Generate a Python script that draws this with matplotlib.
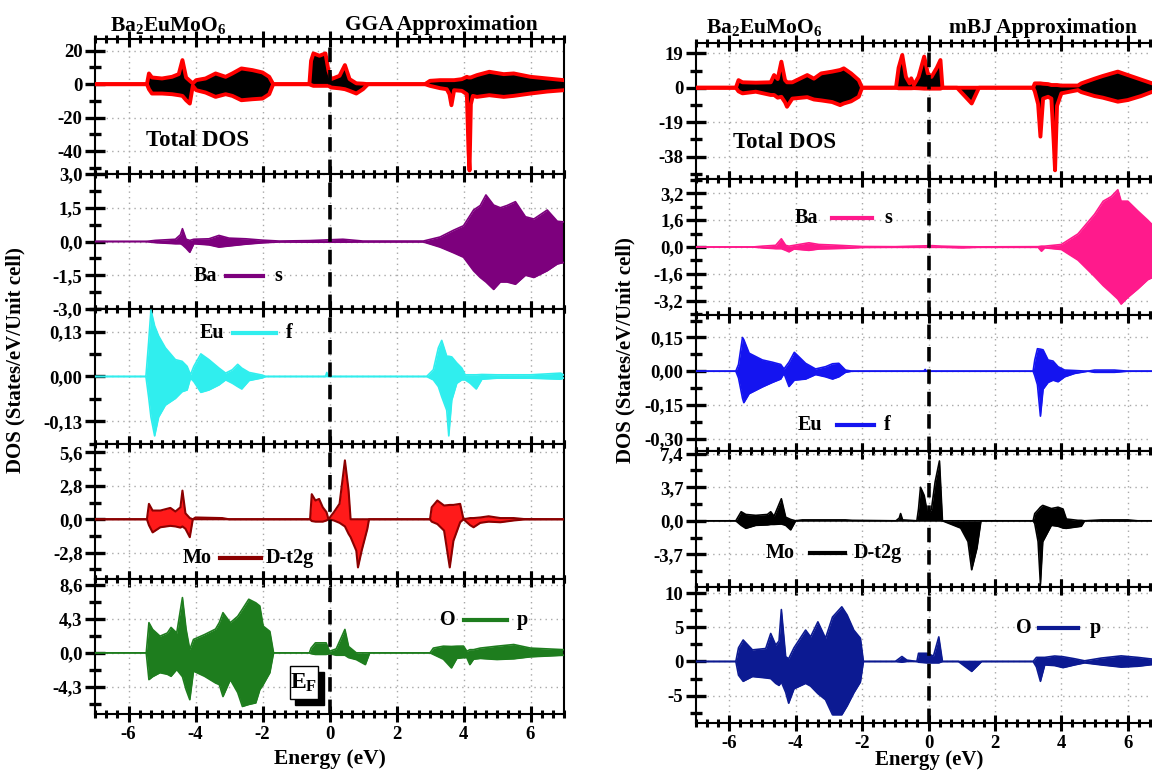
import matplotlib
matplotlib.use('Agg')
import matplotlib.pyplot as plt
from matplotlib.ticker import MultipleLocator, FixedLocator, FuncFormatter
from matplotlib.lines import Line2D
from matplotlib.patches import Rectangle

plt.rcParams['font.family'] = ['Liberation Serif', 'DejaVu Serif']
plt.rcParams['font.weight'] = 'bold'
plt.rcParams['axes.unicode_minus'] = False
plt.rcParams['mathtext.fontset'] = 'custom'
plt.rcParams['mathtext.rm'] = 'Liberation Serif:bold'
plt.rcParams['mathtext.it'] = 'Liberation Serif:bold'
plt.rcParams['mathtext.bf'] = 'Liberation Serif:bold'
plt.rcParams['mathtext.default'] = 'bf'

# ---------------- GGA data (energy eV, spin-up envelope, spin-down envelope) ----------------
gga_tot_e = [-7.0, -5.45, -5.39, -5.30, -5.0, -4.7, -4.5, -4.39, -4.28, -4.17, -4.08, -3.98, -3.7, -3.4,
             -3.1, -2.9, -2.63, -2.3, -2.0, -1.8, -1.68, -0.6, -0.55, -0.48, -0.3, -0.12, -0.03, 0.05,
             0.3, 0.46, 0.6, 0.8, 1.0, 1.15, 2.85, 3.0, 3.3, 3.5, 3.58, 3.64, 3.72, 3.95, 4.1, 4.15,
             4.18, 4.22, 4.28, 4.4, 4.77, 5.2, 5.5, 6.0, 6.5, 7.0]
gga_tot_up = [0, 0, 6.4, 4, 3.4, 4.4, 6, 14.4, 4, 2, 0.5, 2.4, 3.4, 6.4,
              4.4, 6.4, 9.4, 8.4, 7, 4.4, 0, 0, 14, 18.4, 17, 18.4, 8, 3,
              5, 11.4, 3, 0.5, 0.3, 0, 0, 2, 2.4, 2.4, 2.4, 2.4, 2.4, 3, 4.4, 4,
              4, 4, 4.5, 5.4, 7.4, 6, 6.4, 4.4, 3.4, 2.4]
gga_tot_dn = [0, 0, -3, -5.6, -5.6, -6, -6.6, -7, -9.6, -11.6, -1, -3.6, -5, -7.6,
              -6, -7, -9.6, -9, -8.6, -6, 0, 0, -0.5, -1, -1, -1, -1, -2,
              -2.5, -3, -4, -5.6, -3, 0, 0, -1, -2.4, -3, -6, -12.6, -3.6, -4, -6, -40,
              -51.6, -12, -7, -7.6, -6.6, -7.6, -7, -5.6, -4.4, -3.6]

gga_ba_e = [-7.0, -5.5, -5.2, -4.6, -4.45, -4.39, -4.28, -4.17, -4.05, -3.6, -3.3, -3.0, -2.5, -2.0,
            -1.5, -0.6, 0.4, 1.0, 2.8, 3.3, 3.7, 4.0, 4.3, 4.5, 4.67, 4.9, 5.1, 5.3, 5.55, 5.85,
            6.1, 6.5, 6.8, 7.0]
gga_ba_up = [0, 0, 0.05, 0.1, 0.3, 0.57, 0.1, 0.05, 0.1, 0.12, 0.27, 0.15, 0.12, 0.06,
             0.02, 0.04, 0.1, 0.02, 0.02, 0.2, 0.5, 0.7, 1.4, 1.6, 2.07, 1.62, 1.5, 1.6, 1.77, 1.1,
             1.0, 1.4, 0.9, 0.87]
gga_ba_dn = [0, 0, -0.05, -0.1, -0.1, -0.15, -0.3, -0.48, -0.1, -0.15, -0.25, -0.2, -0.12, -0.06,
             -0.02, -0.03, -0.03, -0.02, -0.02, -0.25, -0.5, -0.7, -1.3, -1.6, -1.8, -2.13, -1.8, -1.8, -1.9, -1.5,
             -1.6, -1.3, -1.0, -0.93]

gga_eu_e = [-7.0, -5.48, -5.40, -5.33, -5.22, -5.1, -4.9, -4.6, -4.4, -4.25, -4.15, -4.05, -3.84, -3.6,
            -3.3, -3.1, -2.9, -2.74, -2.62, -2.4, -2.0, -1.9, -0.12, -0.08, -0.04, 2.9, 3.1, 3.25,
            3.35, 3.5, 3.56, 3.65, 3.8, 3.95, 4.05, 4.2, 4.38, 4.55, 5.0, 6.0, 6.9, 7.0]
gga_eu_up = [0, 0, 0.10, 0.197, 0.15, 0.12, 0.085, 0.05, 0.045, 0.03, 0.005, 0.03, 0.067, 0.05,
             0.025, 0.01, 0.02, 0.036, 0.025, 0.012, 0.004, 0, 0, 0.012, 0, 0, 0.02, 0.085,
             0.107, 0.06, 0.06, 0.058, 0.04, 0.025, 0.005, 0.005, 0.005, 0.006, 0.005, 0.005, 0.01, 0.004]
gga_eu_dn = [0, 0, -0.06, -0.12, -0.176, -0.12, -0.085, -0.065, -0.045, -0.04, -0.005, -0.015, -0.047, -0.04,
             -0.025, -0.01, -0.02, -0.03, -0.037, -0.012, -0.004, 0, 0, 0, 0, 0, -0.01, -0.03,
             -0.06, -0.1, -0.176, -0.07, -0.02, -0.01, -0.01, -0.02, -0.037, -0.008, -0.005, -0.005, -0.008, -0.004]

gga_mo_e = [-7.0, -5.45, -5.39, -5.28, -5.05, -4.75, -4.6, -4.45, -4.39, -4.3, -4.17, -4.08, -4.0, -3.2,
            -3.0, -0.58, -0.53, -0.42, -0.31, -0.2, -0.09, -0.03, 0.13, 0.3, 0.46, 0.57, 0.63, 0.8,
            0.85, 0.96, 1.13, 1.18, 3.0, 3.05, 3.22, 3.42, 3.59, 3.7, 3.9, 4.0, 4.2, 4.3, 4.5,
            4.75, 5.1, 5.5, 5.8, 7.0]
gga_mo_up = [0, 0, 1.29, 0.73, 0.73, 0.95, 0.65, 1.0, 2.4, 0.5, 0.1, 0, 0.15, 0.1,
             0, 0, 2.1, 1.57, 1.7, 1.0, 0.6, 0, 0.59, 1.3, 4.93, 2.4, 0, 0,
             0, 0, 0, 0, 0, 1.0, 1.57, 1.15, 1.2, 1.2, 1.29, 0, 0.1, 0.1, 0.15,
             0.25, 0.1, 0.1, 0.02, 0]
gga_mo_dn = [0, 0, -0.5, -1.1, -0.67, -0.55, -0.6, -0.7, -0.6, -0.8, -1.5, 0, 0, 0,
             0, 0, -0.15, -0.2, -0.2, -0.2, -0.1, 0, -0.1, -0.3, -0.6, -1.23, -1.5, -2.63,
             -4.03, -2.63, -0.8, 0, 0, -0.2, -0.4, -0.95, -4.03, -1.8, -0.25, 0, -0.5, -0.67, -0.3,
             -0.2, -0.25, -0.1, -0.02, 0]

gga_o_e = [-7.0, -5.47, -5.39, -5.28, -5.06, -4.84, -4.73, -4.56, -4.39, -4.28, -4.17, -4.06, -3.73, -3.4,
           -3.29, -3.18, -2.96, -2.74, -2.6, -2.41, -2.2, -2.08, -1.98, -1.78, -1.67, -0.6, -0.55, -0.42,
           -0.1, 0.0, 0.2, 0.46, 0.57, 0.8, 1.07, 1.2, 3.0, 3.1, 3.4, 3.64, 3.8, 4.0, 4.1,
           4.19, 4.3, 4.5, 5.0, 5.5, 6.0, 6.5, 7.0]
gga_o_up = [0, 0, 3.8, 2.95, 2.1, 2.5, 3.2, 2.5, 6.96, 2.95, 0.4, 1.69, 2.3, 3.0,
            3.8, 5.06, 3.8, 4.6, 5.5, 6.75, 6.3, 5.9, 3.37, 2.7, 0, 0, 0.6, 1.26,
            1.26, 0.2, 0.5, 2.95, 0.8, 0, 0, 0, 0, 0.6, 0.84, 0.8, 0.84, 0.85, 0.2,
            0.4, 0.4, 0.6, 0.84, 1.05, 0.6, 0.5, 0.4]
gga_o_dn = [0, 0, -3.37, -3.0, -2.5, -2.7, -2.95, -2.1, -3.0, -4.64, -5.9, -2.3, -2.95, -3.8,
            -4.0, -5.5, -3.37, -5.0, -6.75, -6.5, -6.3, -4.64, -4.0, -2.5, 0, 0, -0.1, -0.2,
            -0.2, -0.1, -0.3, -0.3, -0.6, -0.85, -1.48, 0, 0, -0.2, -0.8, -1.9, -0.7, -0.6, -0.6,
            -1.48, -0.8, -0.7, -0.84, -0.75, -0.5, -0.4, -0.3]

# ---------------- mBJ data ----------------
mbj_tot_e = [-7.0, -5.8, -5.72, -5.6, -5.2, -4.75, -4.65, -4.54, -4.43, -4.32, -4.26, -4.1, -3.65, -3.45,
             -3.23, -2.9, -2.66, -2.55, -2.33, -2.1, -2.0, -0.98, -0.9, -0.79, -0.68, -0.57, -0.52, -0.44,
             -0.3, -0.13, -0.02, 0.09, 0.25, 0.36, 0.42, 0.86, 0.97, 1.3, 1.52, 3.15, 3.2, 3.3,
             3.37, 3.45, 3.6, 3.7, 3.77, 3.81, 3.87, 4.0, 4.5, 4.6, 5.0, 5.25, 5.7, 6.0, 6.4,
             6.8, 7.0]
mbj_tot_up = [0, 0, 4.2, 3, 2.8, 3, 7, 4.8, 14.4, 4.2, 3, 3, 7, 5,
              7.9, 8.9, 9.8, 10.7, 7.9, 4.2, 0, 0, 11, 18.1, 6, 2.4, 5.2, 1.5,
              6, 17.2, 7.9, 6, 11, 15.3, 0, 0, 0, 0, 0, 0, 2.4, 2.4,
              2.4, 2.2, 2.0, 1.5, 1.5, 1.5, 1.5, 1.2, 1.2, 2.4, 5, 6.5, 8.9, 7, 4.5,
              2, 1.5]
mbj_tot_dn = [0, 0, -2, -3.1, -2.2, -4, -4, -5.5, -5, -8, -10.5, -6, -5.2, -6.5,
              -7, -7.9, -9.6, -8.7, -7.5, -5, 0, 0, -0.3, -0.3, -0.3, -0.3, -0.3, -0.2,
              -0.3, -0.5, -0.5, -0.5, -0.5, -0.5, 0, 0, -2.2, -8.7, 0, 0, -2, -9,
              -27, -6, -5, -6, -30, -45.6, -10, -3.1, -1.3, -2.4, -4.6, -5.5, -7.7, -6.8, -4.6,
              -1.8, -1.5]

mbj_ba_e = [-7.0, -5.3, -5.0, -4.6, -4.43, -4.3, -4.2, -4.05, -3.6, -3.3, -2.9, -2.5, -2.0, -1.0,
            0.1, 0.4, 1.0, 1.5, 3.3, 3.4, 3.5, 4.0, 4.5, 5.0, 5.26, 5.5, 5.7, 5.8, 6.0, 6.3,
            6.6, 6.8, 7.0]
mbj_ba_up = [0, 0, 0.05, 0.1, 0.49, 0.1, 0.05, 0.1, 0.25, 0.15, 0.12, 0.08, 0.03, 0.02,
             0.08, 0.05, 0.02, 0.01, 0.02, 0.05, 0.05, 0.15, 0.78, 1.95, 2.73, 3.0, 3.41, 2.73, 2.73, 2.15,
             1.6, 1.2, 1.0]
mbj_ba_dn = [0, 0, -0.05, -0.1, -0.1, -0.2, -0.29, -0.12, -0.2, -0.12, -0.1, -0.08, -0.03, -0.02,
             -0.02, -0.02, -0.05, -0.02, -0.02, -0.25, -0.05, -0.15, -0.78, -1.76, -2.3, -2.73, -3.1, -3.4, -3.0, -2.5,
             -1.95, -1.76, -1.5]

mbj_eu_e = [-7.0, -5.8, -5.72, -5.6, -5.56, -5.4, -5.0, -4.7, -4.45, -4.35, -4.2, -4.04, -3.7, -3.4,
            -3.1, -2.89, -2.7, -2.5, -2.3, -0.14, -0.1, -0.06, 3.15, 3.2, 3.28, 3.37, 3.45, 3.6,
            3.75, 3.9, 4.1, 4.4, 4.8, 5.0, 5.6, 6.0, 7.0]
mbj_eu_up = [0, 0, 0.03, 0.15, 0.14, 0.08, 0.05, 0.04, 0.03, 0.01, 0.04, 0.084, 0.035, 0.01,
             0.02, 0.033, 0.035, 0.005, 0, 0, 0.008, 0, 0, 0.05, 0.1, 0.098, 0.095, 0.05,
             0.045, 0.02, 0.005, 0.003, 0, 0.005, 0.005, 0, 0]
mbj_eu_dn = [0, 0, -0.03, -0.12, -0.14, -0.1, -0.07, -0.05, -0.035, -0.01, -0.068, -0.04, -0.035, -0.015,
             -0.025, -0.035, -0.025, -0.005, 0, 0, 0, 0, 0, -0.02, -0.06, -0.2, -0.08, -0.05,
             -0.04, -0.047, -0.025, -0.01, 0, -0.005, -0.005, 0, 0]

mbj_mo_e = [-7.0, -5.8, -5.64, -5.5, -5.2, -4.85, -4.75, -4.65, -4.43, -4.3, -4.15, -4.0, -3.8, -2.5,
            -2.3, -0.98, -0.88, -0.84, -0.78, -0.35, -0.3, -0.24, -0.13, -0.02, 0.09, 0.2, 0.33, 0.42,
            0.97, 1.19, 1.3, 1.46, 1.58, 3.15, 3.2, 3.3, 3.37, 3.44, 3.7, 3.9, 4.05, 4.15, 4.5,
            4.6, 4.7, 5.2, 6.0, 6.3, 7.0]
mbj_mo_up = [0, 0, 1.0, 0.7, 0.6, 0.7, 1.0, 0.5, 2.43, 0.4, 0.15, 0, 0.1, 0.1,
             0.05, 0, 0.3, 0.8, 0.1, 0, 1.3, 3.7, 2.8, 0.6, 1.3, 4.3, 6.6, 0,
             0, 0, 0, 0, 0, 0, 0.8, 1.2, 1.5, 1.7, 1.35, 1.5, 1.3, 0.2, 0.05,
             0.05, 0, 0.1, 0.1, 0, 0]
mbj_mo_dn = [0, 0, -0.5, -0.83, -0.5, -0.45, -0.4, -0.4, -0.35, -0.5, -1.0, 0, 0, 0,
             0, 0, 0, 0, 0, 0, 0, 0, 0, 0, 0, 0, 0, 0,
             -0.8, -2.3, -5.4, -3, 0, 0, -0.3, -2.3, -7.0, -2.3, -0.5, -0.6, -0.8, -0.83, -0.65,
             -0.6, 0, -0.02, -0.02, 0, 0]

mbj_o_e = [-7.0, -5.8, -5.72, -5.58, -5.3, -4.9, -4.75, -4.6, -4.5, -4.43, -4.3, -4.21, -4.05, -3.7,
           -3.55, -3.33, -3.1, -2.89, -2.61, -2.45, -2.25, -2.05, -1.96, -1.0, -0.8, -0.65, -0.35, -0.3,
           -0.05, 0.15, 0.31, 0.42, 0.9, 1.3, 1.6, 3.15, 3.25, 3.37, 3.5, 3.8, 4.05, 4.4, 4.7,
           5.2, 5.8, 6.3, 7.0]
mbj_o_up = [0, 0, 2.0, 3.15, 1.7, 1.9, 4.1, 2.4, 3.0, 7.6, 0.7, 0.4, 2.0, 4.6,
            3.6, 5.8, 3.4, 6.5, 8.0, 6.8, 4.6, 3.4, 0, 0, 0.73, 0.2, 0, 1.2,
            1.2, 0.8, 3.6, 0, 0, 0, 0, 0, 0.6, 0.6, 0.6, 0.8, 0.7, 0.4, 0.1,
            0.5, 0.82, 0.6, 0.2]
mbj_o_dn = [0, 0, -2.0, -2.9, -2.2, -2.4, -2.5, -3.2, -3.5, -3.0, -4.5, -6.1, -4.0, -3.2,
            -3.6, -4.7, -5.6, -7.8, -7.8, -6.5, -4.6, -3.0, 0, 0, -0.1, 0, 0, -0.1,
            -0.2, -0.2, -0.2, 0, 0, -1.45, 0, 0, -0.8, -2.9, -0.5, -0.6, -0.9, -0.5, -0.2,
            -0.5, -0.82, -0.7, -0.3]

x_ticks = [-6, -4, -2, 0, 2, 4, 6]

gga_yticks = [[-40, -20, 0, 20], [-3.0, -1.5, 0.0, 1.5, 3.0], [-0.1333, 0.0, 0.1333],
              [-2.8, 0.0, 2.8, 5.6], [-4.3, 0.0, 4.3, 8.6]]
gga_ydec = [0, 1, 2, 1, 1]
mbj_yticks = [[-38, -19, 0, 19], [-3.2, -1.6, 0.0, 1.6, 3.2], [-0.30, -0.15, 0.0, 0.15],
              [-3.7, 0.0, 3.7, 7.4], [-5, 0, 5, 10]]
mbj_ydec = [0, 1, 2, 1, 0]

gga_legend = [None, ('Ba', 's'), ('Eu', 'f'), ('Mo', 'D-t2g'), ('O', 'p')]
mbj_legend = [None, ('Ba', 's'), ('Eu', 'f'), ('Mo', 'D-t2g'), ('O', 'p')]

# ---------------- figure ----------------
W, H = 1152, 771
fig = plt.figure(figsize=(W / 100, H / 100), dpi=100)


def fx(px):
    return px / W


def fy(py):
    return 1 - py / H


def fmt(dec):
    return FuncFormatter(lambda v, p: f"{v:.{dec}f}".replace('.', ','))


TICK_FS = 13.5


def build_column(x0, x1, top, bottom, panels, yticks, ydecs):
    n = len(panels)
    h = (bottom - top) / n
    axes = []
    for i, (e, up, dn, fill, edge, elw, ylim) in enumerate(panels):
        ax = fig.add_axes([fx(x0), fy(top + (i + 1) * h), (x1 - x0) / W, h / H])
        ax.fill_between(e, dn, up, color=fill, lw=0, zorder=2)
        ax.plot(e, up, color=edge, lw=elw, zorder=3, solid_joinstyle='round')
        ax.plot(e, dn, color=edge, lw=elw, zorder=3, solid_joinstyle='round')
        ax.axvline(0, color='black', lw=2.6, ls=(0, (4, 2.2)), zorder=5)
        ax.set_xlim(-7, 7)
        ax.set_ylim(*ylim)
        ax.xaxis.set_major_locator(FixedLocator(x_ticks))
        ax.xaxis.set_minor_locator(MultipleLocator(1 / 3))
        ax.yaxis.set_major_locator(FixedLocator(yticks[i]))
        step = yticks[i][1] - yticks[i][0]
        ax.yaxis.set_minor_locator(MultipleLocator(step / 2))
        ax.yaxis.set_major_formatter(fmt(ydecs[i]))
        ax.grid(True, which='major', color='#a8a8a8', ls=(0, (1, 3)), lw=1.0, zorder=1)
        ax.tick_params(axis='x', which='major', direction='inout', length=11, width=2.2,
                       top=True, bottom=True, labelbottom=(i == n - 1), labelsize=TICK_FS, pad=3)
        ax.tick_params(axis='x', which='minor', direction='inout', length=6, width=2.2,
                       top=True, bottom=True)
        ax.tick_params(axis='y', which='major', direction='inout', length=14, width=2.4,
                       left=True, right=False, labelsize=TICK_FS, pad=2)
        ax.tick_params(axis='y', which='minor', direction='inout', length=8, width=2.4,
                       left=True, right=False)
        for s in ax.spines.values():
            s.set_linewidth(1.5)
        axes.append(ax)
    return axes


RED = '#ff0000'
gga_panels = [
    (gga_tot_e, gga_tot_up, gga_tot_dn, 'black', RED, 2.8, (-53.7, 27)),
    (gga_ba_e, gga_ba_up, gga_ba_dn, '#7d007d', '#7d007d', 1.2, (-3.0, 3.0)),
    (gga_eu_e, gga_eu_up, gga_eu_dn, '#30eeee', '#30eeee', 1.2, (-0.2, 0.2)),
    (gga_mo_e, gga_mo_up, gga_mo_dn, '#ff1a1a', '#8b0000', 1.5, (-5.0, 6.3)),
    (gga_o_e, gga_o_up, gga_o_dn, '#1e7d1e', '#1e7d1e', 1.2, (-7.7, 9.3)),
]
mbj_panels = [
    (mbj_tot_e, mbj_tot_up, mbj_tot_dn, 'black', RED, 2.8, (-50.4, 24.7)),
    (mbj_ba_e, mbj_ba_up, mbj_ba_dn, '#ff1a8c', '#ff1a8c', 1.2, (-4.05, 4.05)),
    (mbj_eu_e, mbj_eu_up, mbj_eu_dn, '#1414f0', '#1414f0', 1.2, (-0.355, 0.25)),
    (mbj_mo_e, mbj_mo_up, mbj_mo_dn, 'black', 'black', 1.2, (-7.3, 7.7)),
    (mbj_o_e, mbj_o_up, mbj_o_dn, '#0c1a92', '#0c1a92', 1.2, (-9.0, 10.9)),
]

gga_axes = build_column(95, 564, 39, 714, gga_panels, gga_yticks, gga_ydec)
mbj_axes = build_column(696, 1161, 43, 723, mbj_panels, mbj_yticks, mbj_ydec)

# titles
TITLE_FS = 15.5
fig.text(fx(168), fy(25), r'Ba$_2$EuMoO$_6$', ha='center', va='center', fontsize=TITLE_FS)
fig.text(fx(441), fy(25), 'GGA Approximation', ha='center', va='center', fontsize=TITLE_FS)
fig.text(fx(764), fy(28), r'Ba$_2$EuMoO$_6$', ha='center', va='center', fontsize=TITLE_FS)
fig.text(fx(1043), fy(28), 'mBJ Approximation', ha='center', va='center', fontsize=TITLE_FS)

fig.text(fx(146), fy(140), 'Total DOS', ha='left', va='center', fontsize=16.5)
fig.text(fx(733), fy(143), 'Total DOS', ha='left', va='center', fontsize=16.5)

# legend-like labels: (name_left, y, line_x0, line_x1, orb_left)
gga_leg_pos = [None, (194, 276, 226, 263, 274), (200, 333, 233, 276, 286),
               (183, 558, 220, 261, 266), (440, 620, 464, 507, 517)]
mbj_leg_pos = [None, (795, 218, 832, 872, 884), (798, 425, 837, 874, 884),
               (766, 553, 810, 845, 854), (1016, 628, 1039, 1078, 1090)]

LEG_FS = 14.5


def draw_legends(legs, poss, panels):
    for lab, pos, pan in zip(legs, poss, panels):
        if lab is None:
            continue
        nx, y, l0, l1, ox = pos
        col = pan[4]
        fig.text(fx(nx), fy(y), lab[0], ha='left', va='center', fontsize=LEG_FS)
        fig.add_artist(Line2D([fx(l0), fx(l1)], [fy(y), fy(y)], color=col, lw=3,
                              transform=fig.transFigure))
        fig.text(fx(ox), fy(y), lab[1], ha='left', va='center', fontsize=LEG_FS)


draw_legends(gga_legend, gga_leg_pos, gga_panels)
draw_legends(mbj_legend, mbj_leg_pos, mbj_panels)

# E_F box on GGA O-p panel (shadowed box)
axo = gga_axes[-1]
axo.add_patch(Rectangle((-1.02, -6.55), 0.86, 4.2, facecolor='black',
                        edgecolor='black', zorder=6, clip_on=False))
axo.add_patch(Rectangle((-1.19, -5.8), 0.86, 4.2, facecolor='white', edgecolor='black',
                        lw=1.0, zorder=7, clip_on=False))
axo.text(-0.77, -3.75, r'E$_\mathrm{F}$', ha='center', va='center', fontsize=17, zorder=8)

# axis labels
fig.text(fx(330), fy(759), 'Energy (eV)', ha='center', va='center', fontsize=15.5)
fig.text(fx(929), fy(760), 'Energy (eV)', ha='center', va='center', fontsize=15)
fig.text(fx(15), fy(360), 'DOS (States/eV/Unit cell)', ha='center', va='center',
         rotation=90, fontsize=15)
fig.text(fx(625), fy(350), 'DOS (States/eV/Unit cell)', ha='center', va='center',
         rotation=90, fontsize=15)

fig.savefig('out.png', dpi=100)
